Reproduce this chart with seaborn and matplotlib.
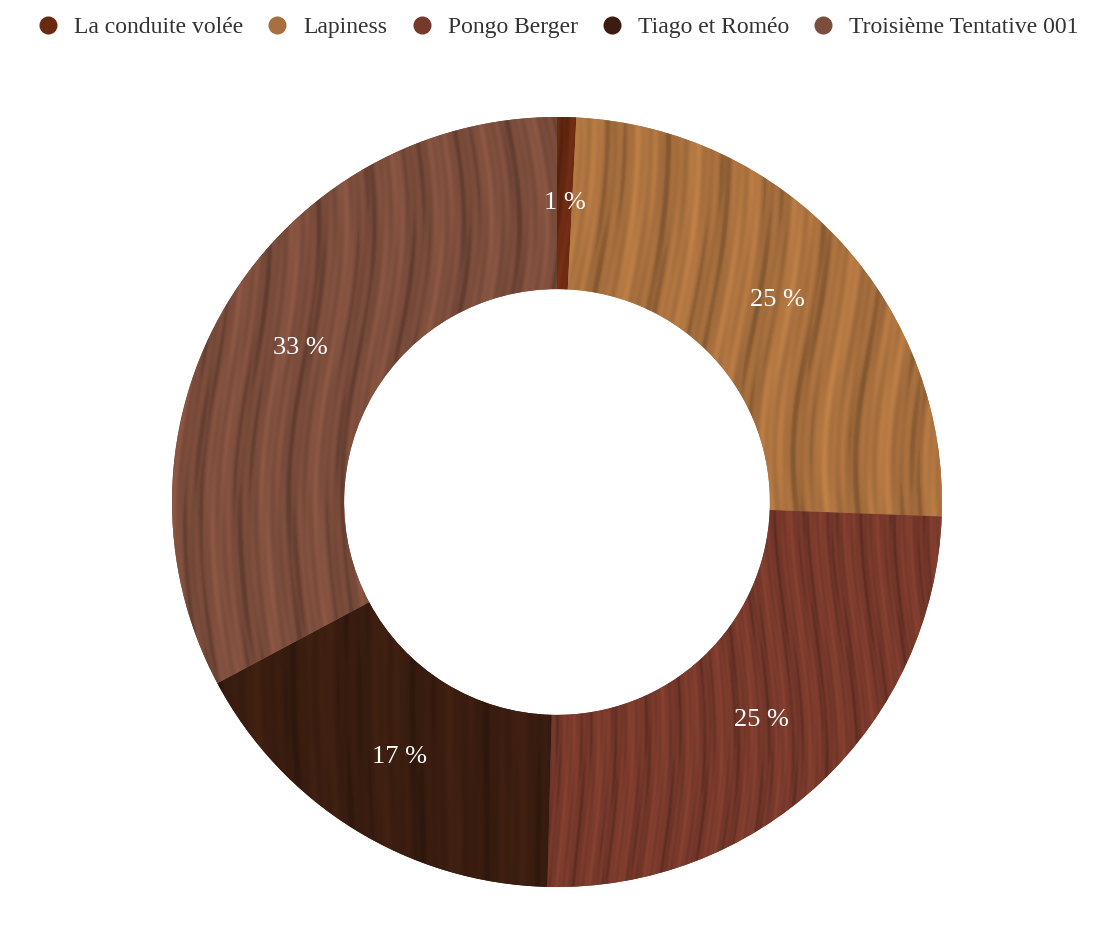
import numpy as np
import matplotlib
matplotlib.use("Agg")
import matplotlib.pyplot as plt
from matplotlib.lines import Line2D
import seaborn as sns

categories = ["La conduite volée", "Lapiness", "Pongo Berger", "Tiago et Roméo", "Troisième Tentative 001"]
values = [1, 31, 31, 21, 41]
colors = ["#6a2a12", "#a8703e", "#77392b", "#3a1d10", "#7c4d3c"]

sns.set_theme(style="white")
plt.rcParams["font.family"] = ["Liberation Serif", "DejaVu Serif"]

fig = plt.figure(figsize=(11.04, 9.46), dpi=100)
R = 385
cx, cy = 557, 502
ax = fig.add_axes([(cx - R) / 1104, (946 - cy - R) / 946, 2 * R / 1104, 2 * R / 946])

wedges, texts, autotexts = ax.pie(
    values, colors=colors, startangle=90, counterclock=False,
    wedgeprops=dict(width=0.447, edgecolor="none"),
    autopct=lambda p: f"{p:.0f} %", pctdistance=0.777,
    textprops=dict(color="white", fontsize=19),
)
ax.set_xlim(-1, 1)
ax.set_ylim(-1, 1)
ax.set_aspect("equal")
ax.axis("off")

# procedural wood grain texture (styling only)
n = 700
xs = np.linspace(-1, 1, n)
X, Y = np.meshgrid(xs, xs)
grain_params = [(9, 0.03, 1.3, 0.3), (7, 0.04, 1.1, 1.1), (13, 0.02, 1.7, 2.0), (6, 0.03, 0.9, 0.7), (8, 0.05, 1.4, 1.7)]
for w, c, (f, a, b, ph) in zip(wedges, colors, grain_params):
    base = np.array(matplotlib.colors.to_rgb(c))
    warp = X + a * np.sin(b * np.pi * Y + ph) + 0.012 * np.sin(5.3 * Y + 2.1 * X)
    g1 = np.sin(2 * np.pi * f * warp)
    g2 = np.sin(2 * np.pi * f * 2.71 * (warp + 0.01 * np.sin(9 * Y)))
    g3 = np.sin(2 * np.pi * f * 6.13 * warp + 1.3)
    v = 0.07 * g1 + 0.05 * g2 + 0.035 * g3
    v = np.where(v < -0.08, v * 1.5, v)
    img = np.clip(base[None, None, :] * (1 + v[..., None]), 0, 1)
    im = ax.imshow(img, extent=[-1, 1, -1, 1], origin="lower", zorder=w.get_zorder() + 0.5, interpolation="bilinear")
    im.set_clip_path(w)
for t in autotexts:
    t.set_zorder(10)

handles = [Line2D([0], [0], marker="o", linestyle="none", markersize=13, markerfacecolor=c, markeredgecolor="none") for c in colors]
fig.legend(handles, categories, loc="upper center", bbox_to_anchor=(0.505, 1.005), ncol=5, frameon=False,
           fontsize=17, labelcolor="#333333", handletextpad=0.6, columnspacing=0.95, handlelength=1.0)

fig.savefig("out.png", dpi=100)
